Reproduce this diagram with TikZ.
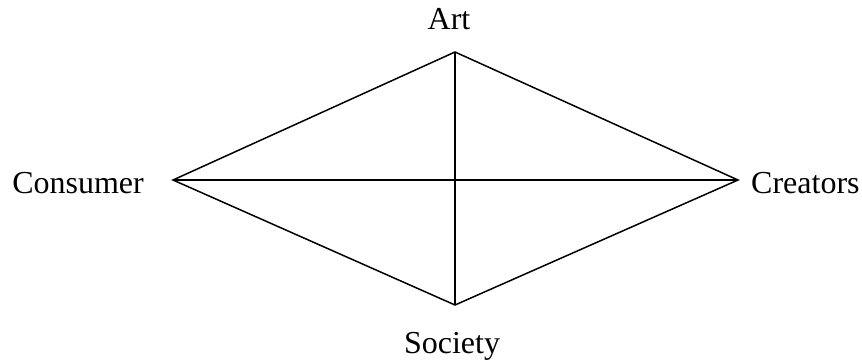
\documentclass[tikz,border=0pt]{standalone}
\usepackage{fontspec}
\setmainfont{Liberation Serif}
\begin{document}
\begin{tikzpicture}[x=1pt,y=-1pt,
  lbl/.style={inner sep=0pt,font=\fontsize{32}{38}\selectfont},
  edge/.style={line width=1.5pt,line join=miter}]
\useasboundingbox (0,0) rectangle (862,364);
\coordinate (A) at (455,52);
\coordinate (C) at (173,180);
\coordinate (R) at (738,180);
\coordinate (S) at (455,305);
\node[lbl,anchor=base] (artl) at (449,29) {Art};
\node[lbl,anchor=base east] (conl) at (144,193) {Consumer};
\node[lbl,anchor=base west] (crel) at (751,193) {Creators};
\node[lbl,anchor=base] (socl) at (452,353) {Society};
\draw[edge] (A) -- (R) -- (S) -- (C) -- cycle;
\draw[edge] (A) -- (S);
\draw[edge] (C) -- (R);
\end{tikzpicture}
\end{document}
